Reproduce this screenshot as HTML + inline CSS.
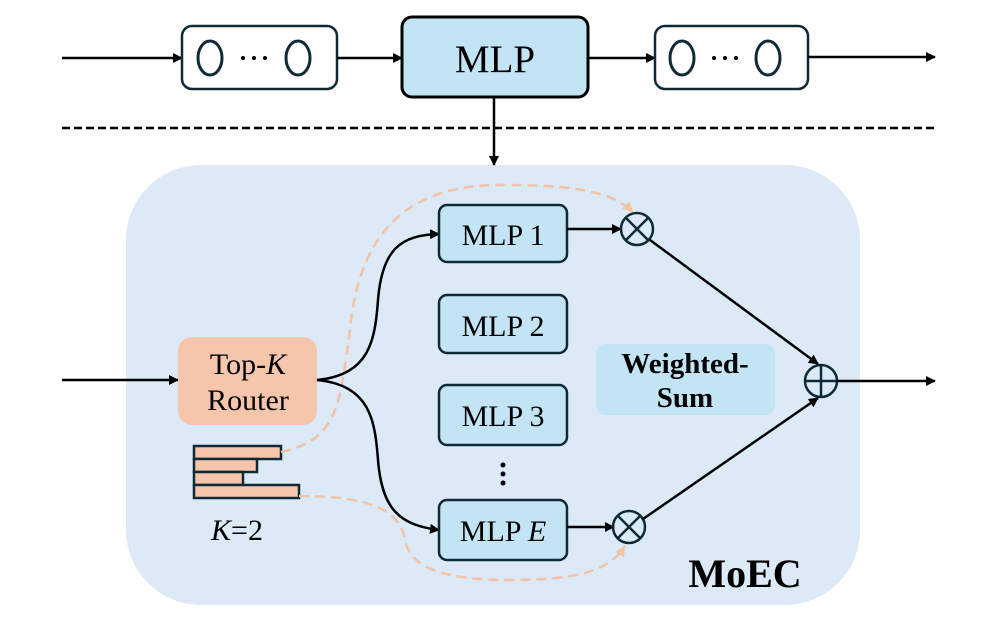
<!DOCTYPE html>
<html><head><meta charset="utf-8"><style>
html,body{margin:0;padding:0;background:#fff}
svg{display:block}
text{font-family:"Liberation Serif",serif}
</style></head><body>
<svg width="986" height="620" viewBox="0 0 986 620" xmlns="http://www.w3.org/2000/svg">
<defs>
<marker id="a" markerWidth="10" markerHeight="10" refX="9" refY="5" orient="auto" markerUnits="userSpaceOnUse" viewBox="0 0 10 10"><path d="M0,0 L10,5 L0,10 z" fill="#000"/></marker>
<marker id="o" markerWidth="12" markerHeight="12" refX="10" refY="6" orient="auto" markerUnits="userSpaceOnUse" viewBox="0 0 12 12"><path d="M0,1 L11,6 L0,11 z" fill="#f4c3a6"/></marker>
</defs>
<!-- top row -->
<line x1="62" y1="58" x2="182" y2="58" stroke="#000" stroke-width="2.5" marker-end="url(#a)"/>
<rect x="182" y="26" width="155" height="63" rx="10" fill="#fff" stroke="#0f2a36" stroke-width="2.5"/>
<ellipse cx="210" cy="58" rx="12" ry="17" fill="none" stroke="#0f2a36" stroke-width="3"/>
<ellipse cx="298" cy="58" rx="12" ry="17" fill="none" stroke="#0f2a36" stroke-width="3"/>
<circle cx="243" cy="58" r="2" fill="#000"/><circle cx="254" cy="58" r="2" fill="#000"/><circle cx="265" cy="58" r="2" fill="#000"/>
<line x1="337" y1="58" x2="402" y2="58" stroke="#000" stroke-width="2.5" marker-end="url(#a)"/>
<rect x="402" y="17" width="186" height="80" rx="10" fill="#c2e4f4" stroke="#000" stroke-width="3"/>
<text x="495" y="72" font-size="39" text-anchor="middle">MLP</text>
<line x1="588" y1="58" x2="655" y2="58" stroke="#000" stroke-width="2.5" marker-end="url(#a)"/>
<rect x="655" y="26" width="153" height="63" rx="10" fill="#fff" stroke="#0f2a36" stroke-width="2.5"/>
<ellipse cx="682" cy="58" rx="12" ry="17" fill="none" stroke="#0f2a36" stroke-width="3"/>
<ellipse cx="768" cy="58" rx="12" ry="17" fill="none" stroke="#0f2a36" stroke-width="3"/>
<circle cx="714" cy="58" r="2" fill="#000"/><circle cx="725" cy="58" r="2" fill="#000"/><circle cx="736" cy="58" r="2" fill="#000"/>
<line x1="808" y1="57" x2="935" y2="57" stroke="#000" stroke-width="2.5" marker-end="url(#a)"/>
<line x1="62" y1="128" x2="935" y2="128" stroke="#000" stroke-width="2.5" stroke-dasharray="8,4"/>
<!-- panel -->
<rect x="126" y="165" width="734" height="440" rx="75" fill="#dce9f6"/>
<line x1="494" y1="97" x2="494" y2="165" stroke="#000" stroke-width="2.5" marker-end="url(#a)"/>
<!-- input -->
<line x1="62" y1="380" x2="178" y2="380" stroke="#000" stroke-width="2.5" marker-end="url(#a)"/>
<rect x="178" y="337" width="139" height="88" rx="14" fill="#f5c6ab"/>
<text x="248" y="374" font-size="30" text-anchor="middle">Top-<tspan font-style="italic">K</tspan></text>
<text x="248" y="410" font-size="30" text-anchor="middle">Router</text>
<!-- bars -->
<g fill="#f5c6ab" stroke="#0f2a36" stroke-width="2.5">
<rect x="194" y="446" width="87" height="13"/>
<rect x="194" y="459" width="63" height="13"/>
<rect x="194" y="472" width="49" height="13"/>
<rect x="194" y="485" width="105" height="13"/>
</g>
<text x="237" y="540" font-size="30" text-anchor="middle"><tspan font-style="italic">K</tspan>=2</text>
<!-- dashed orange -->
<path d="M281,452 C340,440 340,400 350,330 C360,220 420,185 500,185 C570,185 610,190 633,212" fill="none" stroke="#f4c3a6" stroke-width="2.5" stroke-dasharray="10,6" marker-end="url(#o)"/>
<path d="M299,496 C370,496 400,510 405,540 C410,570 450,580 510,580 C580,580 610,570 625,546" fill="none" stroke="#f4c3a6" stroke-width="2.5" stroke-dasharray="10,6" marker-end="url(#o)"/>
<!-- router curves -->
<path d="M317,380 C370,375 375,340 378,300 C382,250 400,235 439,234" fill="none" stroke="#000" stroke-width="2.5" marker-end="url(#a)"/>
<path d="M317,380 C370,385 375,420 378,460 C382,510 400,525 439,530" fill="none" stroke="#000" stroke-width="2.5" marker-end="url(#a)"/>
<!-- MLP boxes -->
<g fill="#c2e4f4" stroke="#0f2a36" stroke-width="2.5">
<rect x="439" y="205" width="128" height="57" rx="8"/>
<rect x="439" y="295" width="128" height="58" rx="8"/>
<rect x="439" y="385" width="128" height="60" rx="8"/>
<rect x="439" y="500" width="128" height="60" rx="8"/>
</g>
<text x="503" y="245" font-size="30" text-anchor="middle">MLP 1</text>
<text x="503" y="336" font-size="30" text-anchor="middle">MLP 2</text>
<text x="503" y="426" font-size="30" text-anchor="middle">MLP 3</text>
<text x="503" y="541" font-size="30" text-anchor="middle">MLP <tspan font-style="italic">E</tspan></text>
<circle cx="503" cy="465" r="2.5" fill="#000"/><circle cx="503" cy="474" r="2.5" fill="#000"/><circle cx="503" cy="483" r="2.5" fill="#000"/>
<!-- otimes -->
<line x1="567" y1="229" x2="621" y2="229" stroke="#000" stroke-width="2.5" marker-end="url(#a)"/>
<line x1="567" y1="527" x2="614" y2="527" stroke="#000" stroke-width="2.5" marker-end="url(#a)"/>
<g stroke="#0f2a36" stroke-width="2.5" fill="none">
<circle cx="637" cy="229" r="16"/><line x1="626" y1="218" x2="648" y2="240"/><line x1="648" y1="218" x2="626" y2="240"/>
<circle cx="629" cy="527" r="16"/><line x1="618" y1="516" x2="640" y2="538"/><line x1="640" y1="516" x2="618" y2="538"/>
<circle cx="821" cy="381" r="16"/><line x1="805" y1="381" x2="837" y2="381"/><line x1="821" y1="365" x2="821" y2="397"/>
</g>
<line x1="650" y1="240" x2="818" y2="364" stroke="#000" stroke-width="2.5" marker-end="url(#a)"/>
<line x1="643" y1="519" x2="818" y2="398" stroke="#000" stroke-width="2.5" marker-end="url(#a)"/>
<line x1="837" y1="381" x2="935" y2="381" stroke="#000" stroke-width="2.5" marker-end="url(#a)"/>
<!-- weighted sum -->
<rect x="596" y="344" width="179" height="71" rx="10" fill="#c2e4f4"/>
<text x="685" y="373" font-size="29" font-weight="bold" text-anchor="middle">Weighted-</text>
<text x="685" y="407" font-size="29" font-weight="bold" text-anchor="middle">Sum</text>
<text x="745" y="587" font-size="40" font-weight="bold" text-anchor="middle">MoEC</text>
</svg>
</body></html>
